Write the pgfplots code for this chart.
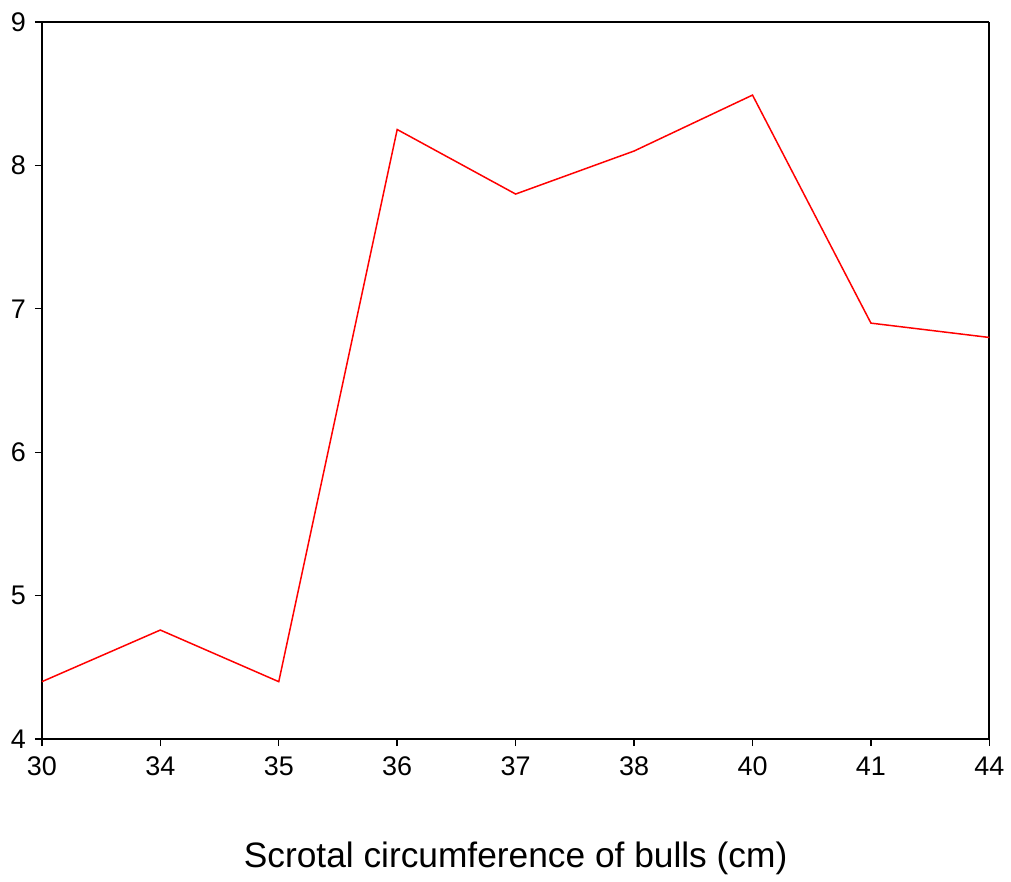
\documentclass[border=0pt]{standalone}
\usepackage{fontspec}
\setmainfont{Liberation Sans}
\usepackage{pgfplots}
\pgfplotsset{compat=1.18}

\pgfplotstableread{
idx val
0 4.40
1 4.76
2 4.40
3 8.25
4 7.80
5 8.10
6 8.49
7 6.90
8 6.80
}\bulls

\begin{document}
\begin{tikzpicture}
\begin{axis}[
    at={(0,0)}, anchor=south west,
    scale only axis,
    width=475pt, height=359.5pt,
    xmin=0, xmax=8, ymin=4, ymax=9,
    xtick={0,...,8},
    xticklabels={30,34,35,36,37,38,40,41,44},
    ytick={4,5,6,7,8,9},
    tick align=outside,
    major tick length=3.5pt,
    tick style={black, line width=0.7pt},
    axis line style={line width=0.6pt},
    separate axis lines,
    every outer x axis line/.append style={line width=1pt},
    every outer y axis line/.append style={line width=1pt},
    xtick pos=bottom, ytick pos=left,
    /pgf/number format/assume math mode=true,
    ticklabel style={font=\fontsize{13.5pt}{16pt}\selectfont},
    xticklabel style={yshift=-2pt},
    yticklabel style={xshift=-1pt},
    xlabel={Scrotal circumference of bulls (cm)},
    xlabel style={font=\fontsize{17.7pt}{21pt}\selectfont, at={(axis description cs:0.5,0)}, anchor=center, yshift=-60pt},
    clip=false,
]
\addplot[red, line width=0.75pt] table[x=idx, y=val] {\bulls};
\end{axis}
\path (-21pt,-67pt) rectangle (484.5pt,370.5pt);
\end{tikzpicture}
\end{document}
